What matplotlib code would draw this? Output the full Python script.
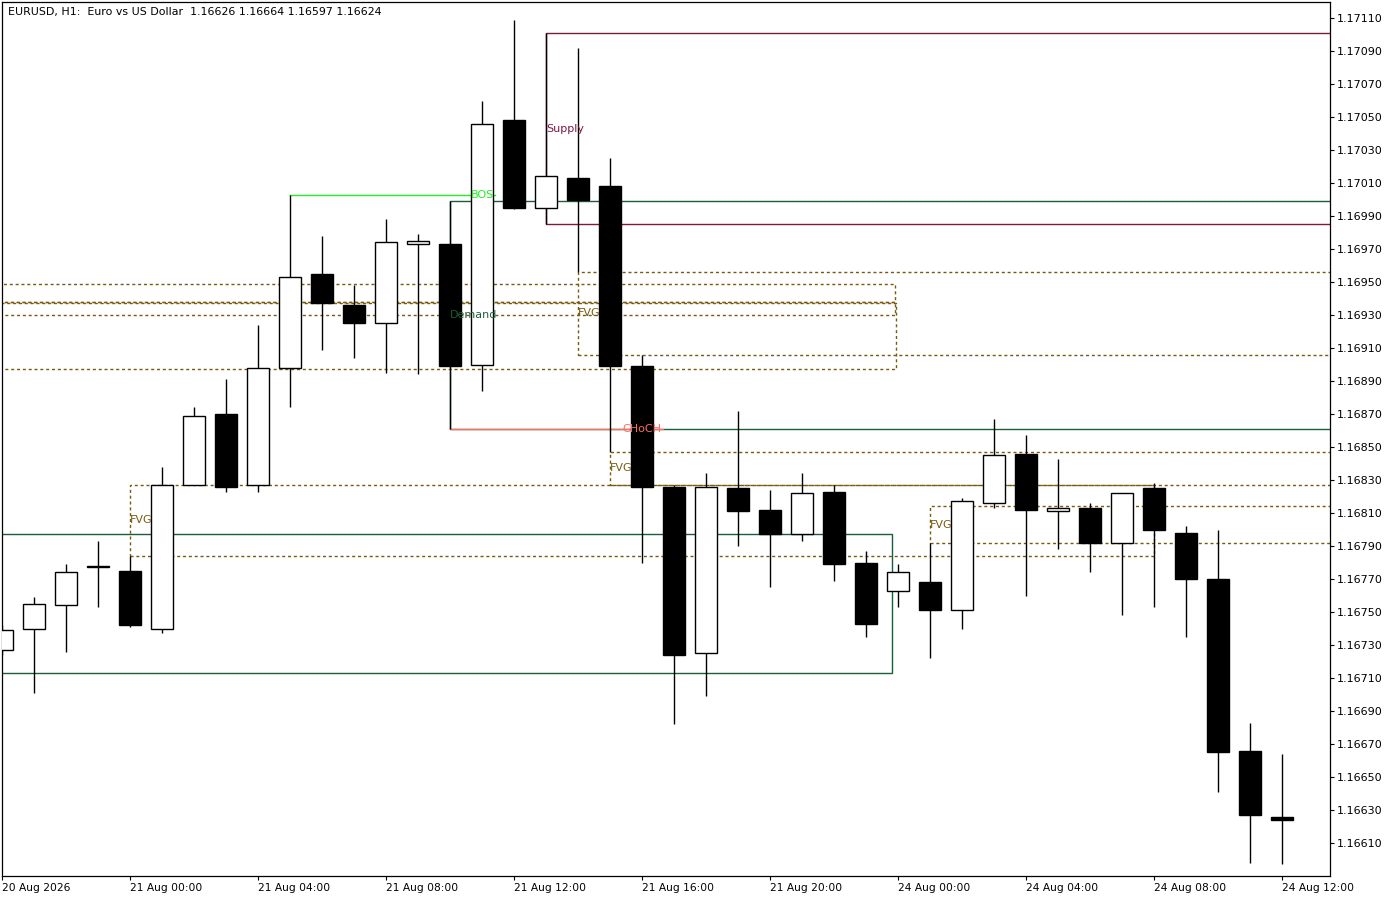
import matplotlib
matplotlib.use('Agg')
import matplotlib.pyplot as plt
from matplotlib.patches import Rectangle

# ─── Bougies EURUSD H1 : 20 Aug 20:00 -> 24 Aug 12:00 ───
opens  = [1.16727, 1.16740, 1.16754, 1.16778, 1.16775, 1.16740, 1.16827, 1.16870,
          1.16827, 1.16898, 1.16955, 1.16936, 1.16925, 1.16973, 1.16973, 1.16900,
          1.17048, 1.16995, 1.17013, 1.17008, 1.16899, 1.16826, 1.16725, 1.16825,
          1.16812, 1.16797, 1.16823, 1.16780, 1.16763, 1.16768, 1.16751, 1.16816,
          1.16846, 1.16811, 1.16813, 1.16792, 1.16825, 1.16798, 1.16770, 1.16666,
          1.16626]
highs  = [1.16742, 1.16759, 1.16779, 1.16793, 1.16784, 1.16838, 1.16874, 1.16891,
          1.16924, 1.17003, 1.16978, 1.16948, 1.16988, 1.16979, 1.16999, 1.17060,
          1.17109, 1.17101, 1.17092, 1.17025, 1.16906, 1.16827, 1.16834, 1.16872,
          1.16824, 1.16834, 1.16827, 1.16787, 1.16779, 1.16792, 1.16819, 1.16867,
          1.16857, 1.16843, 1.16816, 1.16822, 1.16828, 1.16802, 1.16800, 1.16683,
          1.16664]
lows   = [1.16724, 1.16701, 1.16726, 1.16753, 1.16741, 1.16737, 1.16827, 1.16823,
          1.16823, 1.16874, 1.16909, 1.16904, 1.16895, 1.16894, 1.16861, 1.16884,
          1.16994, 1.16985, 1.16956, 1.16847, 1.16780, 1.16682, 1.16699, 1.16790,
          1.16765, 1.16793, 1.16769, 1.16735, 1.16753, 1.16722, 1.16740, 1.16813,
          1.16760, 1.16788, 1.16774, 1.16748, 1.16753, 1.16735, 1.16641, 1.16598,
          1.16597]
closes = [1.16739, 1.16755, 1.16774, 1.16777, 1.16742, 1.16827, 1.16869, 1.16826,
          1.16898, 1.16953, 1.16937, 1.16925, 1.16974, 1.16975, 1.16899, 1.17046,
          1.16995, 1.17014, 1.17000, 1.16899, 1.16826, 1.16724, 1.16826, 1.16811,
          1.16797, 1.16822, 1.16779, 1.16743, 1.16774, 1.16751, 1.16817, 1.16845,
          1.16812, 1.16813, 1.16792, 1.16822, 1.16800, 1.16770, 1.16665, 1.16627,
          1.16624]

time_ticks  = [0, 4, 8, 12, 16, 20, 24, 28, 32, 36, 40]
time_labels = ['20 Aug 2026', '21 Aug 00:00', '21 Aug 04:00', '21 Aug 08:00',
               '21 Aug 12:00', '21 Aug 16:00', '21 Aug 20:00', '24 Aug 00:00',
               '24 Aug 04:00', '24 Aug 08:00', '24 Aug 12:00']
price_ticks = [1.16610, 1.16630, 1.16650, 1.16670, 1.16690, 1.16710, 1.16730,
               1.16750, 1.16770, 1.16790, 1.16810, 1.16830, 1.16850, 1.16870,
               1.16890, 1.16910, 1.16930, 1.16950, 1.16970, 1.16990, 1.17010,
               1.17030, 1.17050, 1.17070, 1.17090, 1.17110]

# ─── Zones SMC (index bougie début, fin, haut, bas) ───
supply_start, supply_end, supply_top, supply_bottom = 17, 50, 1.17101, 1.16985
demand_start, demand_end, demand_top, demand_bottom = 14, 50, 1.16999, 1.16861
old_demand_start, old_demand_end = -5, 27.8
old_demand_top, old_demand_bottom = 1.16797, 1.16713

fvg_start  = [4, 18, 19, 29, -5, -5, -5]
fvg_end    = [36, 50, 50, 50, 27.9, 27.9, 27.95]
fvg_top    = [1.16827, 1.16956, 1.16847, 1.16814, 1.16949, 1.16938, 1.16937]
fvg_bottom = [1.16784, 1.16906, 1.16827, 1.16792, 1.16938, 1.16930, 1.16897]
fvg_shown  = [True, True, True, True, False, False, False]

bos_from, bos_to, bos_end, bos_level = 9, 15, 15.4, 1.17003
choch_from, choch_to, choch_end, choch_level = 14, 20, 20.65, 1.16861

title = 'EURUSD, H1:  Euro vs US Dollar  1.16626 1.16664 1.16597 1.16624'

# ─── Couleurs ───
c_fvg = '#7a5a10'
c_demand = '#1b5e3b'
c_supply = '#7b1a3f'
c_bos = '#22ee22'
c_choch = '#fa6f5f'

fig = plt.figure(figsize=(14, 9), dpi=100)
ax = fig.add_axes([2 / 1400, 24 / 900, 1328 / 1400, 874 / 900])

x = list(range(len(opens)))
w = 0.69

# zones (derrière les bougies)
ax.add_patch(Rectangle((supply_start, supply_bottom), supply_end - supply_start,
                       supply_top - supply_bottom, fill=False, edgecolor=c_supply, lw=1, zorder=1))
ax.add_patch(Rectangle((demand_start, demand_bottom), demand_end - demand_start,
                       demand_top - demand_bottom, fill=False, edgecolor=c_demand, lw=1, zorder=1))
ax.add_patch(Rectangle((old_demand_start, old_demand_bottom), old_demand_end - old_demand_start,
                       old_demand_top - old_demand_bottom, fill=False, edgecolor=c_demand, lw=1, zorder=1))

for s, e, t, b in zip(fvg_start, fvg_end, fvg_top, fvg_bottom):
    ax.add_patch(Rectangle((s, b), e - s, t - b, fill=False, edgecolor=c_fvg, lw=1,
                           linestyle=(0, (2.2, 2.0)), zorder=1))

ax.plot([bos_from, bos_end], [bos_level, bos_level], color=c_bos, lw=1, zorder=1.5)
ax.plot([choch_from, choch_end], [choch_level, choch_level], color=c_choch, lw=1, zorder=1.5)

# bougies
ax.vlines(x, lows, highs, color='black', lw=1, zorder=2)
for i in x:
    o, c = opens[i], closes[i]
    face = 'white' if c > o else 'black'
    ax.bar(i, abs(c - o), bottom=min(o, c), width=w, color=face,
           edgecolor='black', linewidth=1, zorder=3)

# étiquettes
ax.text(supply_start, (supply_top + supply_bottom) / 2, 'Supply', color='#801848',
        fontsize=8, va='center', ha='left', zorder=4)
ax.text(demand_start, (demand_top + demand_bottom) / 2, 'Demand', color=c_demand,
        fontsize=8, va='center', ha='left', zorder=4)
for s, t, b, shown in zip(fvg_start, fvg_top, fvg_bottom, fvg_shown):
    if shown:
        ax.text(s, (t + b) / 2, 'FVG', color=c_fvg, fontsize=8, va='center', ha='left', zorder=4)
ax.text(bos_to, bos_level, 'BOS', color=c_bos, fontsize=8, va='center', ha='center', zorder=4)
ax.text(choch_to, choch_level, 'CHoCH', color=c_choch, fontsize=8, va='center', ha='center', zorder=4)

ax.text(0.0045, 0.994, title, transform=ax.transAxes, fontsize=7.9, va='top', ha='left', zorder=5)

# axes
ax.set_xlim(0, 41.5)
ax.set_ylim(1.16590, 1.171197)
ax.yaxis.tick_right()
ax.set_yticks(price_ticks)
ax.set_yticklabels([f'{p:.5f}' for p in price_ticks], fontsize=8)
ax.set_xticks(time_ticks)
ax.set_xticklabels(time_labels, fontsize=7.7, ha='left')
ax.tick_params(axis='y', direction='out', length=3, width=0.8, pad=2)
ax.tick_params(axis='x', direction='out', length=3, width=0.8, pad=2)
for sp in ax.spines.values():
    sp.set_color('black')
    sp.set_linewidth(0.9)

fig.savefig('out.png', dpi=100)
